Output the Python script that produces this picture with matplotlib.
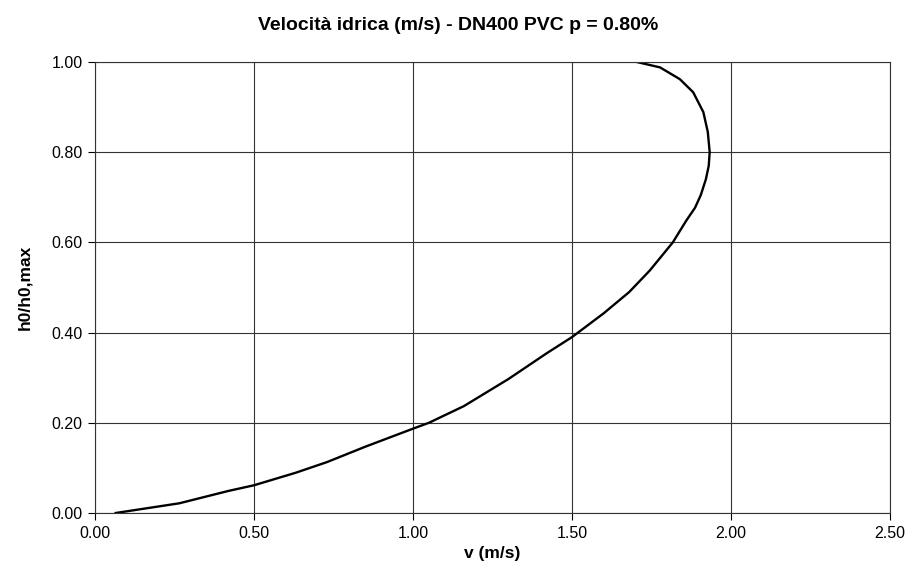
import matplotlib
matplotlib.use("Agg")
import matplotlib.pyplot as plt
import numpy as np

plt.rcParams['font.family'] = ['Liberation Sans', 'DejaVu Sans']

# velocity (m/s), bottom to top
v = [0.065, 0.265, 0.42, 0.50, 0.63, 0.73, 0.85, 1.00, 1.05, 1.16, 1.30,
     1.42, 1.50, 1.60, 1.68, 1.745, 1.817, 1.86, 1.887, 1.905, 1.921, 1.930,
     1.933, 1.927, 1.913, 1.881, 1.839, 1.777, 1.704]
# relative filling h0/h0,max
h = [0.0, 0.0215, 0.049, 0.0615, 0.089, 0.113, 0.147, 0.187, 0.20, 0.237, 0.297,
     0.354, 0.39, 0.443, 0.49, 0.538, 0.60, 0.649, 0.677, 0.705, 0.74, 0.77,
     0.80, 0.845, 0.889, 0.933, 0.962, 0.988, 1.0]

x_ticks = [0.0, 0.5, 1.0, 1.5, 2.0, 2.5]
y_ticks = [0.0, 0.2, 0.4, 0.6, 0.8, 1.0]

fig = plt.figure(figsize=(9.17, 5.74), dpi=100)
ax = fig.add_axes([95 / 917, 1 - 513 / 574, 795 / 917, 451 / 574])

ax.plot(v, h, color='black', linewidth=1.7, solid_joinstyle='round')

ax.set_xlim(0, 2.5)
ax.set_ylim(0, 1.0)
ax.set_xticks(x_ticks)
ax.set_yticks(y_ticks)
ax.set_xticklabels(['%.2f' % t for t in x_ticks], fontsize=11.5)
ax.set_yticklabels(['%.2f' % t for t in y_ticks], fontsize=11.5)
ax.tick_params(direction='out', length=5, width=0.8, color='black', pad=4)
ax.grid(True, color='#333333', linewidth=0.8)
ax.set_axisbelow(True)
for s in ax.spines.values():
    s.set_color('#333333')
    s.set_linewidth(0.8)

ax.set_xlabel('v (m/s)', fontsize=12.5, fontweight='bold', labelpad=4)
ax.set_ylabel('h0/h0,max', fontsize=12.5, fontweight='bold', labelpad=14)
fig.text(0.5, 1 - 25 / 574, 'Velocità idrica (m/s) - DN400 PVC p = 0.80%',
         ha='center', va='center', fontsize=14, fontweight='bold')

fig.savefig('out.png', dpi=100)
